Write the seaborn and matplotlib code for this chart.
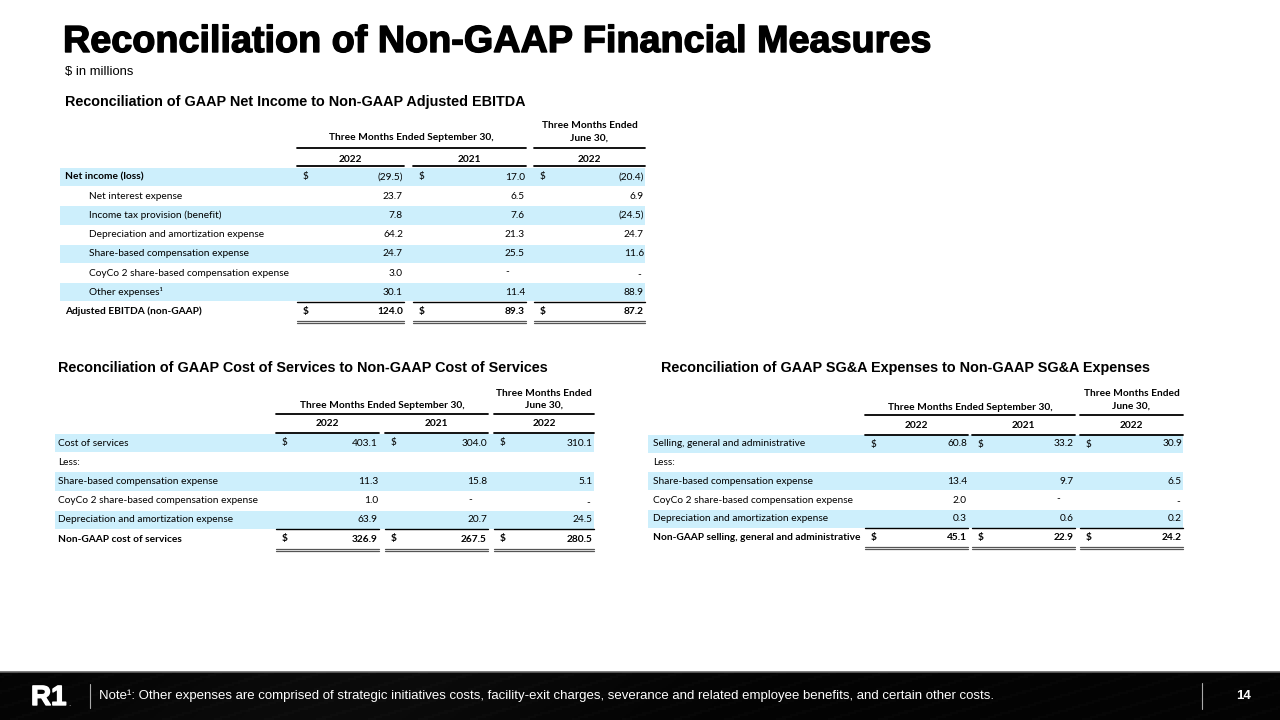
import matplotlib.pyplot as plt
import matplotlib.patheffects as pe
import numpy as np
import seaborn as sns
from matplotlib.patches import Rectangle

# --- Data ($ in millions). None -> "-", "" -> blank cell ---
period_headers = ["Three Months Ended September 30,", "Three Months Ended\nJune 30,"]
year_labels = ["2022", "2021", "2022"]

ebitda_labels = [
    "Net income (loss)",
    "Net interest expense",
    "Income tax provision (benefit)",
    "Depreciation and amortization expense",
    "Share-based compensation expense",
    "CoyCo 2 share-based compensation expense",
    "Other expenses¹",
    "Adjusted EBITDA (non-GAAP)",
]
ebitda_q3_2022 = [-29.5, 23.7, 7.8, 64.2, 24.7, 3.0, 30.1, 124.0]
ebitda_q3_2021 = [17.0, 6.5, 7.6, 21.3, 25.5, None, 11.4, 89.3]
ebitda_q2_2022 = [-20.4, 6.9, -24.5, 24.7, 11.6, None, 88.9, 87.2]

cos_labels = [
    "Cost of services",
    "Less:",
    "Share-based compensation expense",
    "CoyCo 2 share-based compensation expense",
    "Depreciation and amortization expense",
    "Non-GAAP cost of services",
]
cos_q3_2022 = [403.1, "", 11.3, 1.0, 63.9, 326.9]
cos_q3_2021 = [304.0, "", 15.8, None, 20.7, 267.5]
cos_q2_2022 = [310.1, "", 5.1, None, 24.5, 280.5]

sga_labels = [
    "Selling, general and administrative",
    "Less:",
    "Share-based compensation expense",
    "CoyCo 2 share-based compensation expense",
    "Depreciation and amortization expense",
    "Non-GAAP selling, general and administrative",
]
sga_q3_2022 = [60.8, "", 13.4, 2.0, 0.3, 45.1]
sga_q3_2021 = [33.2, "", 9.7, None, 0.6, 22.9]
sga_q2_2022 = [30.9, "", 6.5, None, 0.2, 24.2]

note_text = ("Note¹: Other expenses are comprised of strategic initiatives costs, facility-exit "
             "charges, severance and related employee benefits, and certain other costs.")

SHADE = "#cdeffc"
TABLE_FONT = ["Lato", "DejaVu Sans"]
FS = 7.3


def fmt(v):
    if v is None:
        return "-"
    if v == "":
        return ""
    return f"({abs(v):.1f})" if v < 0 else f"{v:.1f}"


def draw_table(ax, geo, labels, columns, bold_rows, indent_rows, shaded_rows, dollar_rows):
    cols = geo["cols"]
    n = len(labels)
    ys = geo["row_y0"] + geo["row_h"] * np.arange(n)
    half = geo["row_h"] / 2
    right = cols[-1][1]

    # row shading
    for i in shaded_rows:
        ax.add_patch(Rectangle((geo["shade_x0"], ys[i] - half + 0.4), right - geo["shade_x0"],
                               geo["row_h"] - 0.8, color=SHADE, lw=0, zorder=0))

    # period headers
    ax.text((cols[0][0] + cols[1][1]) / 2, geo["hdr_y"], period_headers[0], ha="center",
            va="center", fontsize=FS, fontweight="bold", family=TABLE_FONT)
    ax.plot([cols[0][0], cols[1][1]], [geo["hdr_line_y"]] * 2, color="black", lw=1.3)
    for k, line in enumerate(period_headers[1].split("\n")):
        ax.text((cols[2][0] + cols[2][1]) / 2, geo["hdr2_y"][k], line, ha="center", va="center",
                fontsize=FS, fontweight="bold", family=TABLE_FONT)
    ax.plot([cols[2][0], cols[2][1]], [geo["hdr_line_y"]] * 2, color="black", lw=1.3)

    # years
    for (x0, x1), yr in zip(cols, year_labels):
        ax.text((x0 + x1) / 2, geo["year_y"], yr, ha="center", va="center", fontsize=FS,
                fontweight="bold", family=TABLE_FONT)
        ax.plot([x0, x1], [geo["year_line_y"]] * 2, color="black", lw=1.3)

    # rows
    for i, lab in enumerate(labels):
        weight = "bold" if i in bold_rows else "normal"
        lx = geo["label_x"] + (geo["indent"] if i in indent_rows else 0)
        ax.text(lx, ys[i], lab, ha="left", va="center", fontsize=FS, fontweight=weight,
                family=TABLE_FONT)
        total = i == n - 1
        for c, (x0, x1) in enumerate(cols):
            v = columns[c][i]
            vw = "bold" if total else "normal"
            if v is None:
                ax.text(x1 - geo["dash_off"][c], ys[i] - geo["dash_raise"][c], "-", ha="right",
                        va="center", fontsize=FS, family=TABLE_FONT)
            else:
                ax.text(x1 - 1, ys[i], fmt(v), ha="right", va="center", fontsize=FS,
                        fontweight=vw, family=TABLE_FONT)
            if i in dollar_rows:
                ax.text(x0 + 6, ys[i], "$", ha="left", va="center", fontsize=FS, fontweight=vw,
                        family=TABLE_FONT)
            if total:
                ax.plot([x0, x1], [ys[i] - half] * 2, color="black", lw=1.0)
                ax.plot([x0, x1], [ys[i] + half] * 2, color="#555555", lw=0.9)
                ax.plot([x0, x1], [ys[i] + half + 2.2] * 2, color="#555555", lw=0.9)


sns.set_theme(style="white")
plt.rcParams["font.family"] = ["Liberation Sans", "DejaVu Sans"]
plt.rcParams["text.color"] = "black"
plt.rcParams["text.parse_math"] = False

fig = plt.figure(figsize=(12.8, 7.2), dpi=100)
ax = fig.add_axes([0, 0, 1, 1])
ax.set_xlim(0, 1280)
ax.set_ylim(720, 0)
ax.axis("off")

# titles
ax.text(63, 42, "Reconciliation of Non-GAAP Financial Measures", ha="left", va="center",
        fontsize=27.2, fontweight="bold",
        path_effects=[pe.withStroke(linewidth=1.0, foreground="black")])
ax.text(65, 72, "$ in millions", ha="left", va="center", fontsize=9.4)
ax.text(65, 102, "Reconciliation of GAAP Net Income to Non-GAAP Adjusted EBITDA", ha="left",
        va="center", fontsize=10.4, fontweight="bold")
ax.text(58, 368, "Reconciliation of GAAP Cost of Services to Non-GAAP Cost of Services",
        ha="left", va="center", fontsize=10.4, fontweight="bold")
ax.text(661, 368, "Reconciliation of GAAP SG&A Expenses to Non-GAAP SG&A Expenses",
        ha="left", va="center", fontsize=10.4, fontweight="bold")

geo_ebitda = dict(label_x=65, indent=24, shade_x0=60, cols=[(297, 404), (413, 526), (534, 645)],
                  hdr_y=137, hdr2_y=(126, 138), hdr_line_y=148, year_y=159, year_line_y=166,
                  row_y0=177, row_h=19.2, dash_off=[4, 17, 4], dash_raise=[0, 1, -2])
draw_table(ax, geo_ebitda, ebitda_labels, [ebitda_q3_2022, ebitda_q3_2021, ebitda_q2_2022],
           bold_rows={0, 7}, indent_rows={1, 2, 3, 4, 5, 6}, shaded_rows={0, 2, 4, 6},
           dollar_rows={0, 7})

geo_cos = dict(label_x=58, indent=0, shade_x0=55, cols=[(276, 379), (385, 488), (494, 594)],
               hdr_y=406, hdr2_y=(393, 405), hdr_line_y=414, year_y=424, year_line_y=433,
               row_y0=443, row_h=19.2, dash_off=[4, 16, 4], dash_raise=[0, 1, -2])
draw_table(ax, geo_cos, cos_labels, [cos_q3_2022, cos_q3_2021, cos_q2_2022],
           bold_rows={5}, indent_rows=set(), shaded_rows={0, 2, 4}, dollar_rows={0, 5})

geo_sga = dict(label_x=653, indent=0, shade_x0=648, cols=[(865, 968), (972, 1075), (1080, 1183)],
               hdr_y=407, hdr2_y=(394, 406), hdr_line_y=415, year_y=425, year_line_y=435,
               row_y0=444, row_h=18.7, dash_off=[4, 15, 3], dash_raise=[0, 1, -2])
draw_table(ax, geo_sga, sga_labels, [sga_q3_2022, sga_q3_2021, sga_q2_2022],
           bold_rows={5}, indent_rows=set(), shaded_rows={0, 2, 4}, dollar_rows={0, 5})

# footer band: near-black with faint diagonal streaks
gx = np.linspace(0, 1, 640)
gy = np.linspace(0, 1, 24)[:, None]
band = 0.012 + 0.03 * np.exp(-((gx - 0.3 + 0.05 * gy) / 0.2) ** 2)
band = band + 0.012 * (np.sin((gx * 50 + gy * 6) * np.pi) > 0.85)
ax.imshow(band, extent=(0, 1280, 720, 672), cmap="gray", vmin=0, vmax=1, aspect="auto",
          zorder=1)
ax.plot([0, 1280], [672, 672], color="#666666", lw=1.2, zorder=2)
ax.text(31, 698, "R1", ha="left", va="center", fontsize=20, fontweight="bold", color="white",
        zorder=3, path_effects=[pe.withStroke(linewidth=1.0, foreground="white")])
ax.text(68, 705, ".", ha="left", va="center", fontsize=6, color="#cccccc", zorder=3)
ax.plot([90, 90], [684, 708], color="#aaaaaa", lw=0.8, zorder=3)
ax.text(99, 696, note_text, ha="left", va="center", fontsize=9.5, color="white", zorder=3)
ax.plot([1202, 1202], [683, 709], color="#aaaaaa", lw=0.8, zorder=3)
ax.text(1244, 696, "14", ha="center", va="center", fontsize=9.5, fontweight="bold",
        color="white", zorder=3)

fig.savefig("out.png", dpi=100)
plt.close(fig)
